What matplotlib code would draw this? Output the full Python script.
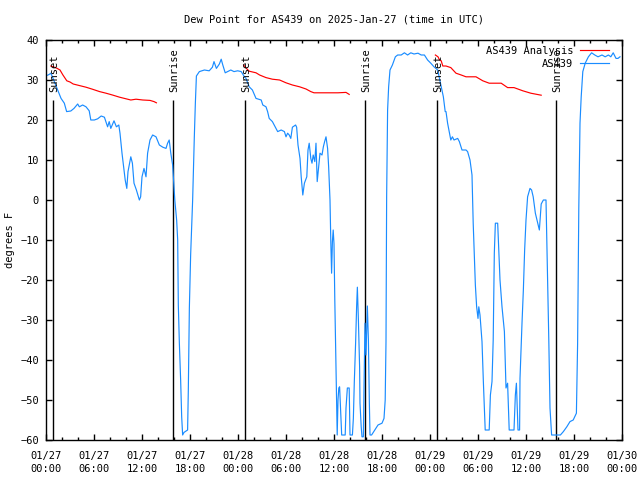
import matplotlib
matplotlib.use("Agg")
import matplotlib.pyplot as plt
from matplotlib.ticker import MultipleLocator

plt.rcParams['font.family'] = ['DejaVu Sans Mono']
FS = 7.5

title = "Dew Point for AS439 on 2025-Jan-27 (time in UTC)"
ylabel = "degrees F"

# hours since 2025-01-27 00:00 UTC
xtick_hours = [0, 6, 12, 18, 24, 30, 36, 42, 48, 54, 60, 66, 72]
xtick_labels = ["01/27\n00:00", "01/27\n06:00", "01/27\n12:00", "01/27\n18:00",
                "01/28\n00:00", "01/28\n06:00", "01/28\n12:00", "01/28\n18:00",
                "01/29\n00:00", "01/29\n06:00", "01/29\n12:00", "01/29\n18:00",
                "01/30\n00:00"]
ytick_vals = [-60, -50, -40, -30, -20, -10, 0, 10, 20, 30, 40]

event_hours = [0.9, 15.9, 24.9, 39.9, 48.9, 63.8]
event_names = ["Sunset", "Sunrise", "Sunset", "Sunrise", "Sunset", "Sunrise"]

obs_hours = [0.2, 0.4, 0.6, 0.8, 1.04, 1.46, 1.88, 2.29, 2.58, 3.1, 3.5, 3.96, 4.17, 4.58,
             5.0, 5.4, 5.6, 6.04, 6.46, 6.9, 7.3, 7.7, 7.9, 8.1, 8.5, 8.8, 9.1, 9.25, 9.5,
             9.67, 9.9, 10.1, 10.25, 10.6, 10.8, 11.0, 11.3, 11.67, 11.83, 12.0, 12.25, 12.4,
             12.5, 12.7, 13.0, 13.33, 13.75, 14.17, 14.6, 15.0, 15.2, 15.4, 15.6, 15.83,
             16.1, 16.33, 16.46, 16.54, 16.67, 16.83, 16.96, 17.08, 17.25, 17.7, 17.79,
             17.92, 18.08, 18.2, 18.33, 18.54, 18.67, 18.8, 19.17, 19.8, 20.4, 20.8, 21.0,
             21.3, 21.67, 21.9, 22.1, 22.4, 22.7, 23.1, 23.5, 23.96, 24.4, 24.8,
             25.0, 25.4, 25.8, 26.25, 26.9, 27.1, 27.5, 27.7, 27.9, 28.3, 28.75, 28.96,
             29.4, 29.8, 30.0, 30.2, 30.4, 30.6, 30.8, 31.2, 31.33, 31.5, 31.75, 31.9,
             32.1, 32.3, 32.6, 32.75, 32.9, 33.1, 33.25, 33.4, 33.6, 33.75, 33.9, 34.1,
             34.25, 34.5, 34.67, 34.83, 35.0, 35.2, 35.33, 35.5, 35.6, 35.7, 35.8, 35.9,
             36.0, 36.1, 36.3, 36.4, 36.5, 36.6, 36.7, 36.83, 36.96, 37.4, 37.5, 37.67,
             37.9, 38.0, 38.3, 38.42, 38.54, 38.7, 38.83, 38.92, 39.05, 39.2, 39.25, 39.4,
             39.5, 39.67, 39.75, 39.875, 40.0, 40.17, 40.3, 40.42, 40.5, 40.7, 41.1, 41.5,
             42.0, 42.25, 42.4, 42.5, 42.58, 42.7, 42.83, 43.0, 43.3, 43.67, 43.96, 44.4,
             44.8, 45.2, 45.6, 46.0, 46.5, 46.9, 47.3, 47.7, 48.1, 48.5, 48.96, 49.4,
             49.67, 49.9, 50.0, 50.2, 50.4, 50.6, 50.8, 51.0, 51.46, 51.67, 52.0, 52.5,
             52.7, 53.0, 53.25, 53.4, 53.67, 53.83, 54.0, 54.1, 54.25, 54.5, 54.67, 54.9,
             55.4, 55.55, 55.75, 55.9, 56.04, 56.17, 56.46, 56.6, 56.75, 57.0, 57.3, 57.5,
             57.7, 57.9, 58.5, 58.67, 58.8, 59.0, 59.2, 59.25, 59.5, 59.67, 59.83, 60.0,
             60.2, 60.5, 60.7, 60.9, 61.17, 61.46, 61.67, 61.9, 62.17, 62.5, 62.65, 62.85,
             63.0, 63.2, 64.3, 64.67, 65.1, 65.5, 65.9, 66.3, 66.45, 66.6, 66.75, 66.9,
             67.1, 67.4, 67.8, 68.2, 68.6, 69.0, 69.5, 69.9, 70.3, 70.6, 70.9, 71.25, 71.5,
             71.75]
obs_values = [31.2, 31.4, 31.7, 30.8, 29.6, 27.5, 25.4, 24.2, 22.1, 22.25, 22.9, 24.0, 23.3, 23.75,
              23.3, 22.3, 20.0, 20.0, 20.3, 21.0, 20.7, 18.3, 19.6, 17.9, 19.8, 18.3, 18.75, 16.7, 11.7,
              8.75, 5.0, 2.9, 7.1, 10.8, 9.2, 4.2, 2.5, 0.0, 0.8, 5.8, 7.9, 6.7,
              5.8, 11.7, 15.0, 16.25, 15.8, 13.75, 13.2, 12.9, 14.2, 15.0, 11.7, 8.75,
              0.0, -5.0, -10.0, -26.25, -35.8, -45.0, -54.2, -58.75, -58.1, -57.5, -47.5,
              -27.0, -13.75, -7.0, 0.0, 15.8, 24.2, 31.0, 32.1, 32.5, 32.3, 33.2, 34.6,
              32.9, 34.0, 35.2, 33.75, 31.8, 32.1, 32.5, 32.1, 32.3, 32.1, 30.8,
              30.4, 28.3, 27.5, 25.4, 25.0, 23.75, 23.3, 22.1, 20.4, 19.6, 17.9, 17.1,
              17.5, 17.1, 15.8, 16.7, 16.25, 15.4, 18.2, 18.75, 18.2, 13.75, 10.4, 5.8,
              1.25, 4.2, 5.8, 12.5, 14.2, 10.4, 9.2, 11.25, 9.6, 14.2, 4.6, 8.75,
              11.7, 11.25, 13.3, 14.6, 15.8, 12.9, 8.3, 0.0, -10.4, -18.3, -10.4, -7.5,
              -11.0, -25.0, -47.5, -58.75, -50.0, -47.0, -46.7, -53.0, -58.75, -58.75, -52.0, -47.0,
              -47.0, -58.75, -58.75, -54.6, -45.4, -35.8, -26.5, -21.8, -30.0, -41.7, -50.8, -56.7,
              -59.2, -59.2, -47.0, -30.8, -38.75, -26.5, -35.0, -50.8, -58.75, -58.75, -57.5, -56.25,
              -55.8, -54.6, -50.0, -35.4, 0.8, 22.5, 28.3, 32.5, 33.75, 35.8, 36.25, 36.25,
              36.8, 36.25, 36.8, 36.5, 36.7, 36.25, 36.25, 35.0, 34.2, 33.3, 32.5, 28.3,
              25.8, 22.1, 22.1, 19.2, 17.1, 15.0, 15.8, 15.0, 15.4, 14.6, 12.5, 12.5,
              12.1, 10.0, 6.25, -5.8, -21.25, -26.7, -29.6, -26.7, -28.75, -35.4, -45.4, -57.5,
              -57.5, -48.75, -45.4, -35.0, -13.3, -5.8, -5.8, -12.5, -20.0, -26.7, -32.9, -47.0,
              -45.8, -57.5, -57.5, -48.75, -45.8, -57.5, -57.5, -44.6, -30.8, -22.5, -12.5, -5.0,
              0.8, 2.9, 2.5, 0.8, -3.3, -5.8, -7.5, -1.0, 0.0, 0.0, -15.0, -35.0,
              -52.0, -58.75, -58.75, -57.9, -56.7, -55.4, -55.0, -53.3, -36.0, -2.0, 19.2, 25.8,
              32.1, 34.2, 35.8, 36.8, 36.25, 35.8, 36.25, 35.8, 36.25, 35.8, 36.8, 35.4, 35.4,
              35.8]

ana1_hours = [0.6, 0.9, 1.3, 1.75, 2.1, 2.6, 3.0, 3.4, 4.2, 5.0, 5.8, 6.7, 7.5, 8.3, 9.2,
              10.0, 10.6, 11.25, 12.1, 13.0, 13.5, 13.8]
ana1_values = [33.5, 33.3, 33.0, 32.5, 31.3, 29.8, 29.5, 29.0, 28.6, 28.2, 27.7, 27.1, 26.7,
               26.25, 25.7, 25.3, 25.0, 25.2, 25.0, 24.9, 24.6, 24.3]
ana2_hours = [24.7, 25.0, 25.4, 26.25, 26.7, 27.5, 28.3, 29.2, 30.0, 30.8, 31.7, 32.5, 33.1,
              33.5, 35.0, 36.5, 37.5, 37.9]
ana2_values = [33.75, 33.0, 32.2, 31.8, 31.25, 30.6, 30.2, 30.0, 29.3, 28.75, 28.3, 27.75,
               27.1, 26.8, 26.8, 26.8, 26.9, 26.4]
ana3_hours = [48.67, 49.0, 49.2, 49.4, 49.6, 50.0, 50.6, 51.25, 51.9, 52.5, 53.75, 54.6, 55.4,
              56.9, 57.7, 58.5, 59.6, 60.6, 61.9]
ana3_values = [36.25, 35.8, 35.0, 34.8, 33.5, 33.5, 33.1, 31.7, 31.25, 30.8, 30.8, 29.8,
               29.2, 29.2, 28.1, 28.1, 27.3, 26.7, 26.2]

RED = '#ff0000'
BLUE = '#1a8cff'
LW = 0.85

fig = plt.figure(figsize=(6.4, 4.8), dpi=100)
ax = fig.add_axes([46/640, 40/480, 576/640, 400/480])

ax.vlines(event_hours, -60, 25, colors='black', linewidth=1.0)
for h, name in zip(event_hours, event_names):
    ax.text(h + 0.1, 27, name, rotation=90, ha='center', va='bottom', fontsize=FS)

ax.plot(ana1_hours, ana1_values, color=RED, linewidth=LW, label='AS439 Analysis')
ax.plot(ana2_hours, ana2_values, color=RED, linewidth=LW)
ax.plot(ana3_hours, ana3_values, color=RED, linewidth=LW)
ax.plot(obs_hours, obs_values, color=BLUE, linewidth=LW, label='AS439')

ax.set_xlim(0, 72)
ax.set_ylim(-60, 40)
ax.set_xticks(xtick_hours, xtick_labels)
ax.xaxis.set_minor_locator(MultipleLocator(2))
ax.set_yticks(ytick_vals)
ax.tick_params(axis='both', which='major', direction='in', length=4, width=1,
               top=True, right=True, labelsize=FS)
ax.tick_params(axis='x', which='major', pad=8)
ax.tick_params(axis='y', which='major', pad=5)
ax.tick_params(axis='x', which='minor', direction='in', length=2.2, width=1, top=True)
for lbl in ax.get_xticklabels():
    lbl.set_linespacing(1.35)
for s in ax.spines.values():
    s.set_linewidth(1.0)

fig.text(10/640, 0.5, ylabel, rotation=90, ha='center', va='center', fontsize=FS)
fig.text(334/640, 1 - 19/480, title, ha='center', va='center', fontsize=FS)

ax.legend(loc='upper right', bbox_to_anchor=(0.978, 0.985), frameon=False,
          markerfirst=False, fontsize=FS, handlelength=2.8, handletextpad=0.67,
          borderpad=0, borderaxespad=0, labelspacing=0.3)

fig.savefig('out.png', dpi=100)
